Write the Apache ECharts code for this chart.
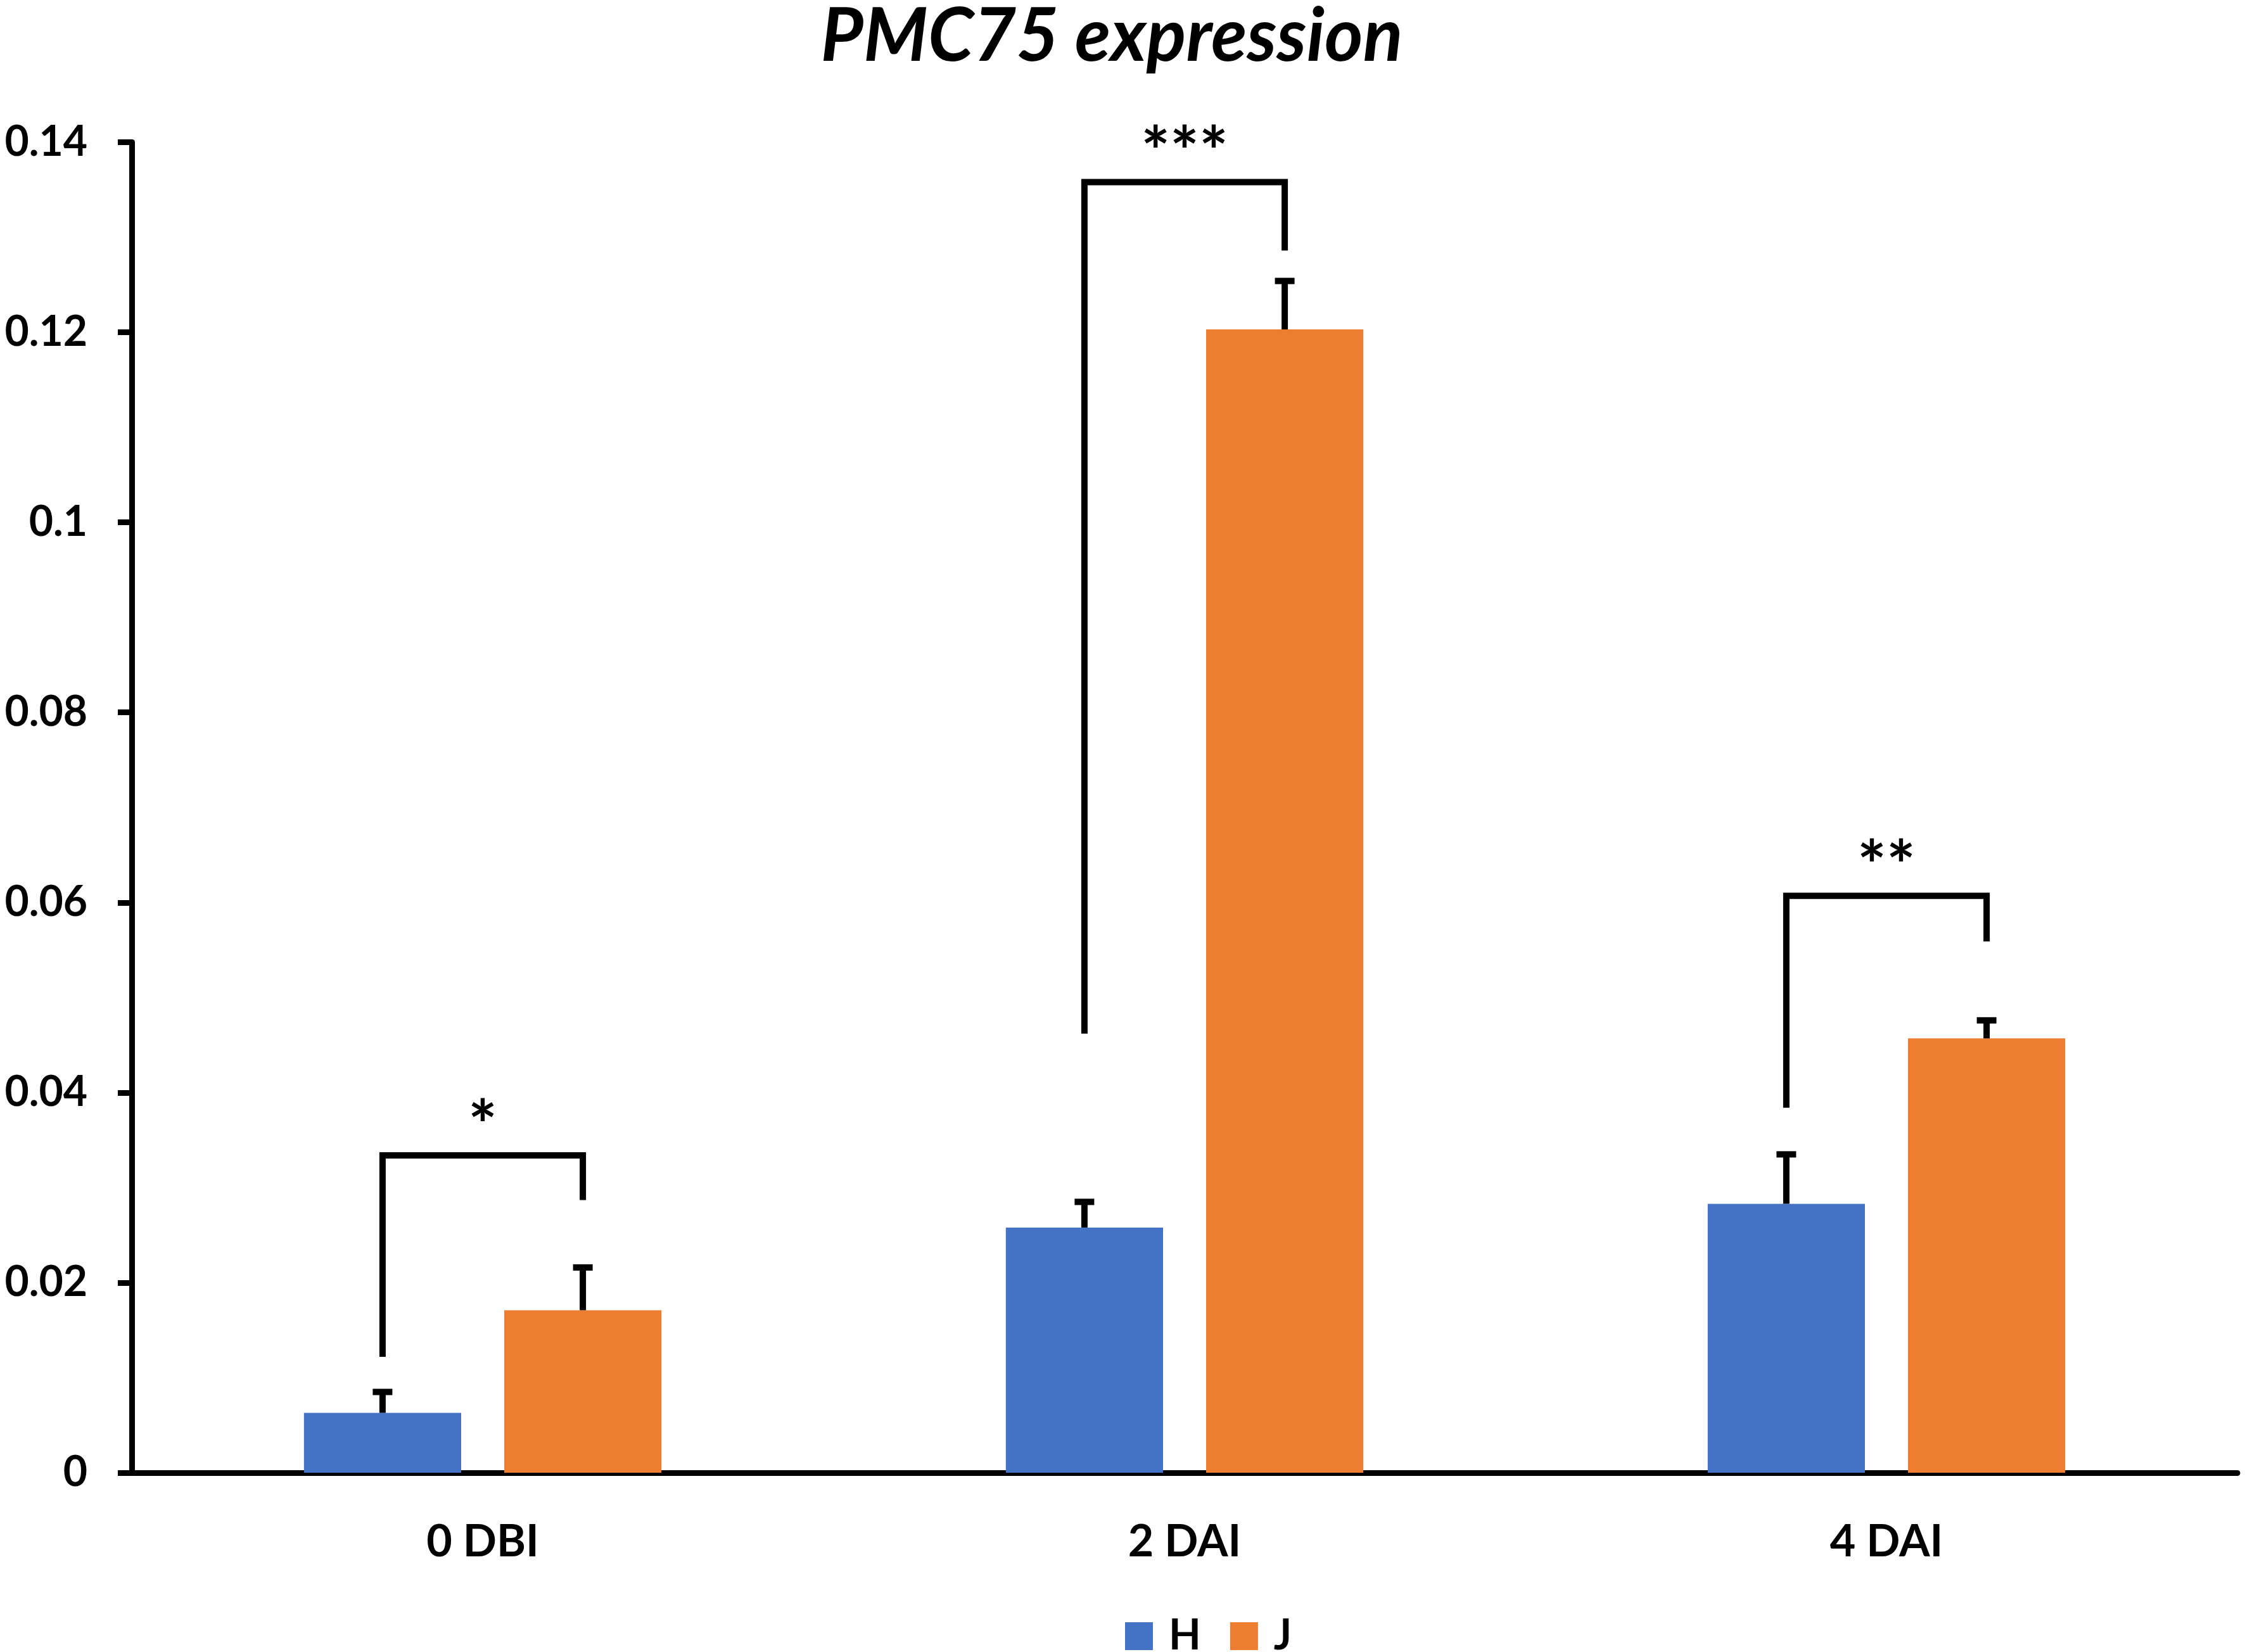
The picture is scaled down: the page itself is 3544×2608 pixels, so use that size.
<!DOCTYPE html>
<html>
<head>
<meta charset="utf-8">
<script src="https://cdn.jsdelivr.net/npm/echarts@6/dist/echarts.min.js"></script>
<style>
html,body{margin:0;padding:0;background:#fff;}
#chart{width:3544px;height:2608px;}
</style>
</head>
<body>
<div id="chart"></div>
<script>
// ---- data ----
const categories = ['0 DBI', '2 DAI', '4 DAI'];
const seriesNames = ['H', 'J'];
const hMean = [0.0063, 0.0258, 0.0283];
const hSd   = [0.0022, 0.0027, 0.0052];
const jMean = [0.0171, 0.1203, 0.0457];
const jSd   = [0.0045, 0.0051, 0.0019];
// significance brackets: left leg bottom, top, right leg bottom (values)
const bracketLeft  = [0.0122, 0.0462, 0.0384];
const bracketTop   = [0.0334, 0.1358, 0.0607];
const bracketRight = [0.0287, 0.1286, 0.0559];
const sigLabels = ['*', '***', '**'];
const yMin = 0, yMax = 0.14, yInterval = 0.02;

// ---- style constants ----
const BAR_W = 0.224;   // fraction of category band
const BAR_GAP = 0.274; // fraction of bar width
const FONT = 'Lato';
const colors = ['#4472C4', '#ED7D31'];

function barCenterX(api, ci, si) {
  const c = api.coord([ci, 0]);
  const band = api.size([1, 0])[0];
  const w = band * BAR_W;
  const off = (w + w * BAR_GAP) / 2;
  return c[0] + (si === 0 ? -off : off);
}

function errRender(si) {
  return function (params, api) {
    const ci = api.value(0);
    const top = api.value(1);
    const mean = api.value(2);
    const x = barCenterX(api, ci, si);
    const yM = api.coord([ci, mean])[1];
    const yT = api.coord([ci, top])[1];
    const style = { stroke: '#000', lineWidth: 10, lineCap: 'butt' };
    return {
      type: 'group',
      children: [
        { type: 'line', shape: { x1: x, y1: yM, x2: x, y2: yT }, style: style },
        { type: 'line', shape: { x1: x - 15.5, y1: yT, x2: x + 15.5, y2: yT }, style: style }
      ]
    };
  };
}

function bracketRender(params, api) {
  const ci = api.value(0);
  const xL = barCenterX(api, ci, 0);
  const xR = barCenterX(api, ci, 1);
  const yL = api.coord([ci, api.value(1)])[1];
  const yT = api.coord([ci, api.value(2)])[1];
  const yR = api.coord([ci, api.value(3)])[1];
  return {
    type: 'group',
    children: [
      {
        type: 'polyline',
        shape: { points: [[xL, yL], [xL, yT], [xR, yT], [xR, yR]] },
        style: { stroke: '#000', lineWidth: 10, fill: null, lineJoin: 'miter', lineCap: 'butt' }
      },
      {
        type: 'text',
        x: (xL + xR) / 2,
        y: yT - 44,
        style: {
          text: sigLabels[ci],
          fill: '#000',
          font: 'bold 108px ' + FONT,
          align: 'center',
          verticalAlign: 'middle'
        }
      }
    ]
  };
}

const chart = echarts.init(document.getElementById('chart'), null, { renderer: 'canvas' });
chart.setOption({
  animation: false,
  backgroundColor: '#fff',
  title: {
    text: 'PMC75 expression',
    left: 1750,
    textAlign: 'center',
    top: -4,
    textStyle: { fontFamily: FONT, fontWeight: 'bold', fontStyle: 'italic', fontSize: 116, color: '#000' }
  },
  legend: {
    data: seriesNames,
    left: 1776,
    top: 2550,
    padding: 0,
    icon: 'rect',
    itemWidth: 44,
    itemHeight: 44,
    itemGap: 46,
    textStyle: { fontFamily: FONT, fontWeight: 'bold', fontSize: 66, color: '#000', padding: [0, 0, 0, 20] }
  },
  grid: { left: 208, right: 12, top: 224.5, bottom: 283, containLabel: false },
  xAxis: {
    type: 'category',
    data: categories,
    axisLine: { show: true, lineStyle: { color: '#000', width: 9 } },
    axisTick: { show: false },
    axisLabel: { fontFamily: FONT, fontWeight: 'bold', fontSize: 70, color: '#000', margin: 74 },
    splitLine: { show: false }
  },
  yAxis: {
    type: 'value',
    min: yMin, max: yMax, interval: yInterval,
    axisLine: { show: true, lineStyle: { color: '#000', width: 9 } },
    axisTick: { show: true, length: 22, lineStyle: { color: '#000', width: 9 } },
    axisLabel: { fontFamily: FONT, fontWeight: 'bold', fontSize: 66, color: '#000', margin: 70 },
    splitLine: { show: false }
  },
  series: [
    {
      name: 'H', type: 'bar', data: hMean,
      barWidth: (BAR_W * 100) + '%', barGap: (BAR_GAP * 100) + '%',
      itemStyle: { color: colors[0] }
    },
    {
      name: 'J', type: 'bar', data: jMean,
      barWidth: (BAR_W * 100) + '%', barGap: (BAR_GAP * 100) + '%',
      itemStyle: { color: colors[1] }
    },
    {
      type: 'custom', name: 'errH', renderItem: errRender(0), z: 5, silent: true,
      encode: { x: 0, y: 1 },
      data: hMean.map((m, i) => [i, m + hSd[i], m])
    },
    {
      type: 'custom', name: 'errJ', renderItem: errRender(1), z: 5, silent: true,
      encode: { x: 0, y: 1 },
      data: jMean.map((m, i) => [i, m + jSd[i], m])
    },
    {
      type: 'custom', name: 'sig', renderItem: bracketRender, z: 6, silent: true,
      encode: { x: 0, y: 2 },
      data: categories.map((c, i) => [i, bracketLeft[i], bracketTop[i], bracketRight[i]])
    }
  ]
});
</script>
</body>
</html>
